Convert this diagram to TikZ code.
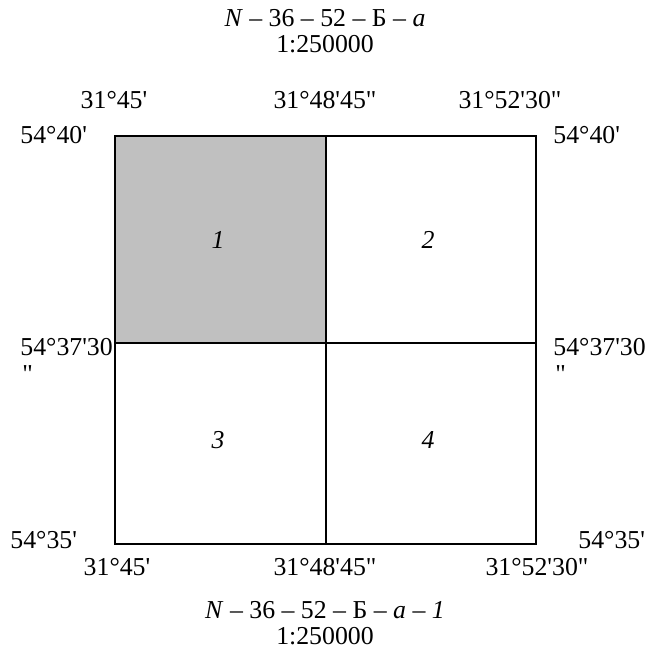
\documentclass[tikz,border=0pt]{standalone}
\usepackage{fontspec}
\setmainfont{Liberation Serif}[Ligatures=TeXOff]
\usetikzlibrary{positioning}
\definecolor{SheetGray}{HTML}{C0C0C0}

\begin{document}
\begin{tikzpicture}[x=0.5pt,y=-0.5pt,
    lbl/.style={inner sep=0pt,font=\fontsize{12.9}{13}\selectfont},
    title/.style={lbl,align=center},
    num/.style={lbl,font=\fontsize{12.9}{13}\selectfont\itshape},
    frame/.style={draw=black,line width=1pt},
    grid/.style={draw=black,line width=0.75pt}]
    \useasboundingbox (0,0) rectangle (649,652);

    % corners of the sheet
    \coordinate (nw) at (115,136);
    \coordinate (ne) at (536,136);
    \coordinate (sw) at (115,544);
    \coordinate (se) at (536,544);
    \coordinate (n)  at (326,136);
    \coordinate (s)  at (326,544);
    \coordinate (w)  at (115,343);
    \coordinate (e)  at (536,343);
    \coordinate (c)  at (326,343);

    \fill[SheetGray] (nw) rectangle (c);
    \draw[grid] (n) -- (s);
    \draw[grid] (w) -- (e);
    \draw[frame] (nw) rectangle (se);

    \node[num] (q1) at (218,240) {1};
    \node[num] (q2) at (428,240) {2};
    \node[num] (q3) at (218,440) {3};
    \node[num] (q4) at (428,440) {4};

    \node[title] (top) at (325,31) {\textit{N} – 36 – 52 – Б – \textit{a}\\1:250000};
    \node[title] (bot) at (325,623) {\textit{N} – 36 – 52 – Б – \textit{a} – \textit{1}\\1:250000};

    % longitudes
    \node[lbl] (lt1) at (114,100) {31°45'};
    \node[lbl] (lt2) at (325,100) {31°48'45"};
    \node[lbl] (lt3) at (510,100) {31°52'30"};
    \node[lbl] (lb1) at (117,567) {31°45'};
    \node[lbl] (lb2) at (325,567) {31°48'45"};
    \node[lbl] (lb3) at (537,567) {31°52'30"};

    % latitudes
    \node[lbl,anchor=west] (ll1) at (20,135) {54°40'};
    \node[lbl,anchor=west] (ll2) at (20,347) {54°37'30};
    \node[lbl,below right=4.5pt and 1pt of ll2.south west] (ll2q) {"};
    \node[lbl,anchor=west] (ll3) at (10,540) {54°35'};
    \node[lbl,anchor=west] (lr1) at (553,135) {54°40'};
    \node[lbl,anchor=west] (lr2) at (553,347) {54°37'30};
    \node[lbl,below right=4.5pt and 1pt of lr2.south west] (lr2q) {"};
    \node[lbl,anchor=west] (lr3) at (578,540) {54°35'};
\end{tikzpicture}
\end{document}
